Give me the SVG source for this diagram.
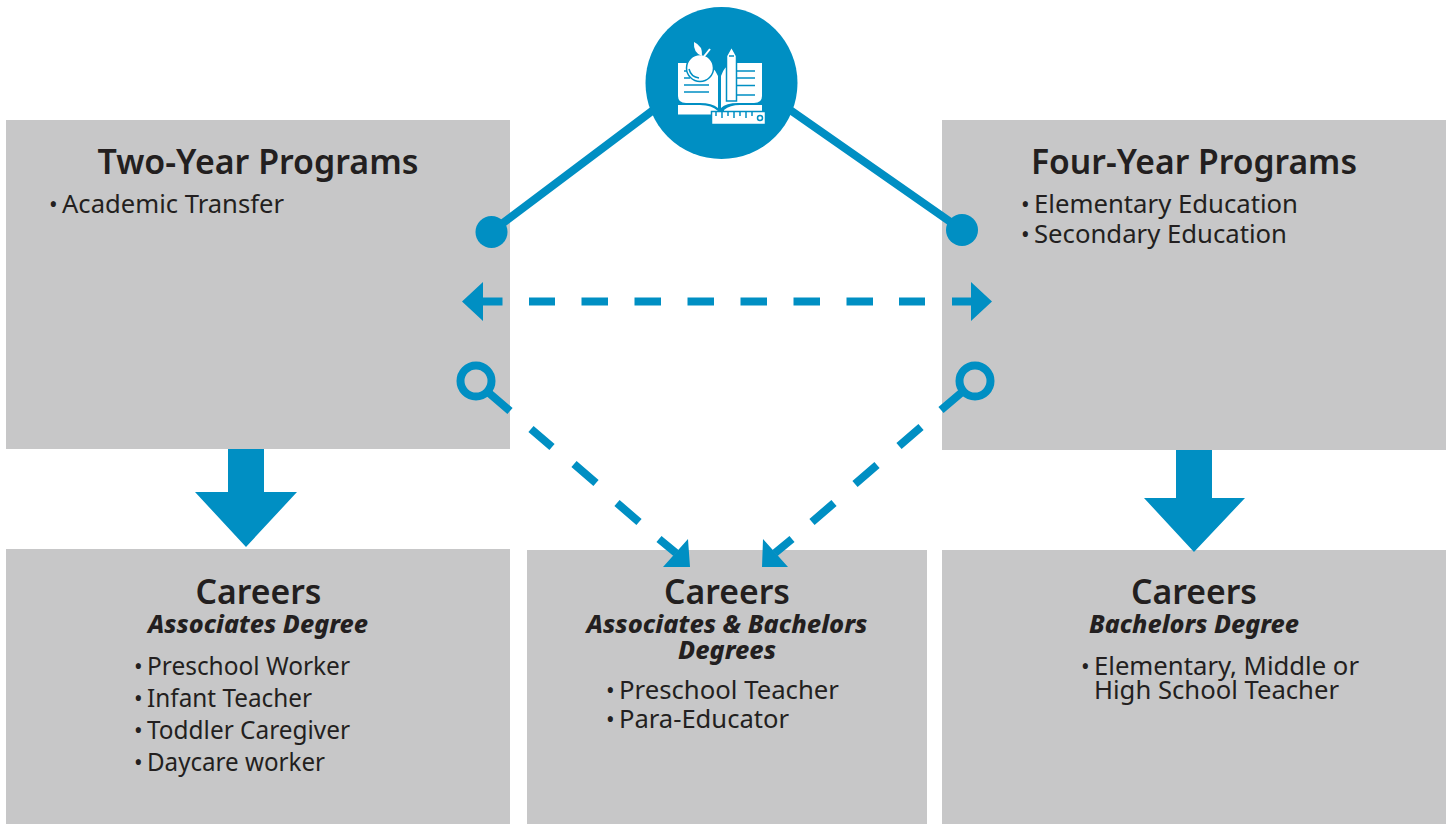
<svg xmlns="http://www.w3.org/2000/svg" width="1448" height="824" viewBox="0 0 1448 824">
<style>
.box{fill:#c7c7c8}
text{font-family:"Noto Sans","Open Sans",sans-serif;fill:#231f20}
.h{font-size:35px;font-weight:600;text-anchor:middle}
.s{font-size:25px;font-weight:800;font-style:italic;text-anchor:middle}
.b{font-size:26px}
.d{font-size:23px}
.c{fill:none;stroke:#008fc3;stroke-width:8}
.f{fill:#008fc3}
.w{fill:#fff}
.wl{fill:none;stroke:#fff;stroke-width:2}
.bl{fill:none;stroke:#008fc3;stroke-width:1.5}
.wb{fill:#fff;stroke:#008fc3;stroke-width:1.5}
</style>
<g id="two-year"><rect class="box" x="6" y="120" width="504" height="329"/>
<text class="h" x="258" y="173.500" textLength="321" lengthAdjust="spacingAndGlyphs">Two-Year Programs</text>
<text class="b"><tspan class="d" x="49" y="213">•</tspan><tspan x="62" y="213" textLength="222" lengthAdjust="spacingAndGlyphs">Academic Transfer</tspan></text></g>
<g id="four-year"><rect class="box" x="942" y="120" width="504" height="330"/>
<text class="h" x="1194" y="173.500" textLength="326" lengthAdjust="spacingAndGlyphs">Four-Year Programs</text>
<text class="b"><tspan class="d" x="1021" y="213">•</tspan><tspan x="1034" y="213" textLength="264" lengthAdjust="spacingAndGlyphs">Elementary Education</tspan></text>
<text class="b"><tspan class="d" x="1021" y="243">•</tspan><tspan x="1034" y="243" textLength="253" lengthAdjust="spacingAndGlyphs">Secondary Education</tspan></text></g>
<g id="careers-associates"><rect class="box" x="6" y="549" width="504" height="275"/>
<text class="h" x="258.500" y="603.500" textLength="126" lengthAdjust="spacingAndGlyphs">Careers</text>
<text class="s" x="258" y="633" textLength="220" lengthAdjust="spacingAndGlyphs">Associates Degree</text>
<text class="b"><tspan class="d" x="134" y="675">•</tspan><tspan x="147" y="675" textLength="203" lengthAdjust="spacingAndGlyphs">Preschool Worker</tspan></text>
<text class="b"><tspan class="d" x="134" y="707">•</tspan><tspan x="147" y="707" textLength="165" lengthAdjust="spacingAndGlyphs">Infant Teacher</tspan></text>
<text class="b"><tspan class="d" x="134" y="739">•</tspan><tspan x="147" y="739" textLength="203" lengthAdjust="spacingAndGlyphs">Toddler Caregiver</tspan></text>
<text class="b"><tspan class="d" x="134" y="771">•</tspan><tspan x="147" y="771" textLength="178" lengthAdjust="spacingAndGlyphs">Daycare worker</tspan></text></g>
<g id="careers-both"><rect class="box" x="527" y="550" width="400" height="274"/>
<text class="h" x="727" y="603.500" textLength="126" lengthAdjust="spacingAndGlyphs">Careers</text>
<text class="s" x="727" y="633" textLength="281" lengthAdjust="spacingAndGlyphs">Associates &amp; Bachelors</text>
<text class="s" x="727" y="659" textLength="98" lengthAdjust="spacingAndGlyphs">Degrees</text>
<text class="b"><tspan class="d" x="606" y="699">•</tspan><tspan x="619" y="699" textLength="220" lengthAdjust="spacingAndGlyphs">Preschool Teacher</tspan></text>
<text class="b"><tspan class="d" x="606" y="728">•</tspan><tspan x="619" y="728" textLength="170" lengthAdjust="spacingAndGlyphs">Para-Educator</tspan></text></g>
<g id="careers-bachelors"><rect class="box" x="942" y="550" width="504" height="274"/>
<text class="h" x="1194" y="603.500" textLength="126" lengthAdjust="spacingAndGlyphs">Careers</text>
<text class="s" x="1194" y="633" textLength="210" lengthAdjust="spacingAndGlyphs">Bachelors Degree</text>
<text class="b"><tspan class="d" x="1081" y="675">•</tspan><tspan x="1094" y="675" textLength="265" lengthAdjust="spacingAndGlyphs">Elementary, Middle or</tspan></text>
<text class="b" x="1094" y="699" textLength="245" lengthAdjust="spacingAndGlyphs">High School Teacher</text></g>
<g id="connectors">
<path class="c" d="M660 105L491 232M783 105L962 230"/>
<circle class="f" cx="491.500" cy="232" r="16"/><circle class="f" cx="962" cy="230" r="16"/>
<path class="c" d="M480 301.500H502.500M529 301.500H555M581.500 301.500H608M634.500 301.500H661M687.500 301.500H714M740.500 301.500H767M793.500 301.500H820M846.500 301.500H873M899 301.500H925M952 301.500H975"/>
<path class="f" d="M462 301.500L483 282V321ZM992 301.500L971 282V321Z"/>
<circle class="c" cx="476" cy="381" r="15.500"/><circle class="c" cx="975" cy="381" r="15.500"/>
<path class="c" d="M489 393L510 411M961 393L941 410"/>
<path class="c" d="M531 429L552 447M574 464L596 483M617 503L639 522M659 539L676 553M921 427L899 446M877 465L855 484M834 503L812 522M792 539L775 553"/>
<path class="f" d="M690 567L688 539L663 567ZM762 567L763 539L788 567Z"/>
<path class="f" d="M228 449H264V492H297L246 547L195 492H228ZM1176 450H1212V498H1245L1194 552L1144 498H1176Z"/>
</g>
<g id="icon">
<circle class="f" cx="721.500" cy="83" r="76"/>
<path class="w" d="M678 63H700Q713 64 718 76V108Q712 103 700 103H686Q678 103 678 96Z"/>
<path class="w" d="M721 76Q724 66 733 63H762V96Q762 103 754 103H738Q726 103 721 108Z"/>
<path class="w" d="M678 105H700Q712 105 718 111V112H712V114.500H678ZM724 110Q730 105 740 105H762V111H724Z"/>
<path class="bl" d="M684 71H690M684 78H690M684 85H709M684 92H709M737 71H755M737 78H755M737 85.500H755M737 95H755"/>
<circle class="wb" cx="700" cy="68" r="13.500"/>
<path class="bl" d="M689 69Q691 77 699 78"/>
<path class="w" d="M694 42Q703 46 702 56Q693 53 694 42Z"/><path class="wl" d="M702 59L710 49"/>
<path class="wb" d="M726.500 101V56L731.500 47L736.500 56V101Z"/><path class="bl" d="M729 56H734"/>
<path class="wb" d="M711.500 111.500H765.500V124.500H711.500Z"/><path class="bl" d="M716 112V116M722 112V118M728 112V116M734 112V118M740 112V116M746 112V118M752 112V116"/>
<circle class="bl" cx="760" cy="118" r="2.500"/>
</g>
</svg>
